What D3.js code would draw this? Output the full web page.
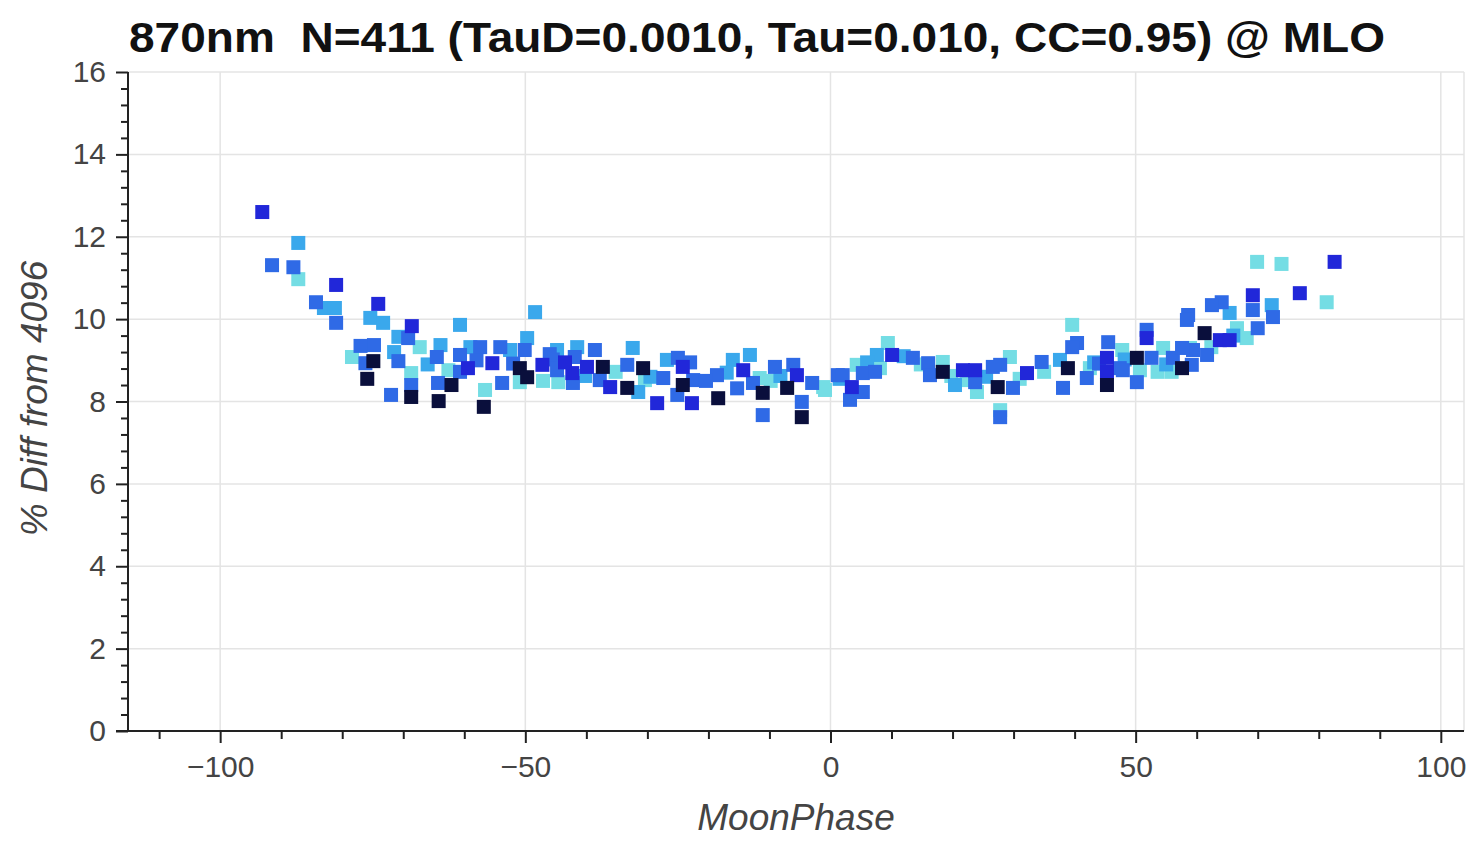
<!DOCTYPE html>
<html><head><meta charset="utf-8">
<script src="https://cdn.jsdelivr.net/npm/d3@7"></script>
<style>
body{margin:0;background:#fff;}
svg{display:block;font-family:"Liberation Sans",Arial,Helvetica,sans-serif;}
</style></head>
<body><svg id="c" width="1474" height="842"></svg>
<script>
const titleText = "870nm  N=411 (TauD=0.0010, Tau=0.010, CC=0.95) @ MLO";
const xLabel = "MoonPhase";
const yLabel = "% Diff from 4096";
const xMajorTicks = [-100, -50, 0, 50, 100];
const yMajorTicks = [0, 2, 4, 6, 8, 10, 12, 14, 16];
const levelColors = ["#74dde4", "#3aa8ec", "#2f6ae6", "#2127d9", "#0a0f3c"];

const moonPhase = [-93.1,-91.5,-87.2,-88.0,-87.2,-84.3,-81.0,-83.0,-81.2,-81.0,-74.1,-75.4,-73.3,-78.4,-74.8,-74.9,-76.2,-75.9,-72.0,-68.7,-68.7,-68.7,-68.6,-69.2,-70.8,-70.8,-67.3,-64.5,-64.2,-64.3,-62.1,-62.6,-60.7,-60.7,-60.7,-63.9,-56.8,-56.6,-53.8,-57.4,-55.4,-59.0,-59.4,-54.1,-52.5,-48.4,-49.7,-50.9,-49.7,-50.1,-47.2,-47.1,-44.8,-44.8,-44.6,-42.3,-42.2,-41.5,-41.9,-39.9,-38.6,-37.3,-37.8,-36.1,-33.3,-32.4,-33.3,-31.5,-30.7,-28.4,-26.8,-27.4,-25.0,-24.2,-24.2,-25.1,-22.7,-22.5,-18.6,-18.4,-16.0,-14.3,-13.2,-12.7,-11.1,-11.1,-9.1,-7.1,-6.1,-5.5,-4.7,-4.7,-3.0,-1.2,1.2,-0.9,2.0,3.5,3.2,5.3,5.3,4.3,7.3,7.6,9.4,10.1,13.5,16.0,16.3,18.4,18.4,20.4,21.7,23.7,23.7,24.0,26.6,27.8,27.4,29.4,29.9,27.8,27.8,32.2,34.6,37.6,39.6,40.4,39.6,38.9,38.1,42.0,45.5,45.3,45.3,45.3,47.4,47.8,50.2,51.8,51.8,52.6,50.2,50.7,56.1,57.6,58.6,53.6,54.5,59.4,61.3,69.9,73.9,82.6,76.9,81.3,69.2,69.2,72.3,72.5,70.0,64.1,62.5,65.4,58.4,63.8,65.4,66.6,61.7,58.9,59.2,68.2,57.6,47.9,22.3,42.5,55.9,-30.4,-50.9,-11.6,8.1,
  -52.0,-45.5,-40.2,-35.2,-20.4,-15.3,-8.2,12.0,19.8,35.0,44.0,48.2,62.4,-66.0,-58.0,-46.0,-43.5,-29.5,-23.0,-17.0,-9.8,1.5,6.0,14.8,25.5,31.0,43.2,55.0,66.0,-77.0,-71.5];
const pctDiff = [12.60,11.31,11.85,11.26,10.97,10.41,10.83,10.27,10.27,9.91,10.37,10.03,9.91,9.08,9.37,8.98,8.93,8.55,8.16,8.11,8.40,8.69,9.83,9.54,9.57,8.98,9.32,9.08,8.01,8.45,8.40,8.76,8.72,9.13,9.86,9.37,7.87,8.28,8.45,9.32,8.93,9.32,8.81,9.32,9.25,10.17,9.54,8.81,8.59,9.25,8.89,8.50,9.25,8.76,8.47,8.69,8.45,9.32,9.08,8.84,9.25,8.84,8.52,8.35,8.89,9.30,8.33,8.23,8.81,7.96,9.01,8.57,9.06,8.84,8.40,8.16,7.96,8.52,8.64,8.08,9.01,8.76,9.13,8.45,8.21,7.67,8.84,8.33,8.89,8.64,7.99,7.62,8.45,8.35,8.64,8.28,8.64,8.35,8.04,8.69,8.23,8.89,8.72,9.13,9.42,9.13,9.06,8.93,8.64,8.96,8.72,8.40,8.76,8.76,8.47,8.23,8.84,8.89,8.35,9.08,8.33,7.79,7.62,8.69,8.96,9.01,9.86,9.42,9.32,8.81,8.33,8.57,9.44,9.06,8.72,8.40,8.81,9.25,9.06,9.74,9.54,9.06,8.47,8.76,9.06,8.81,10.10,8.72,9.30,9.25,9.66,11.39,11.34,11.39,10.63,10.41,10.58,10.22,10.34,10.05,9.78,10.41,10.34,10.15,9.98,9.49,9.49,9.78,9.13,9.30,8.89,9.54,9.30,8.76,8.52,8.81,8.72,8.52,8.47,8.57,8.81,
  8.92,9.02,8.62,8.72,8.50,8.32,8.62,9.10,8.62,8.72,8.92,9.02,9.32,8.90,9.00,9.15,8.95,8.60,8.95,8.70,8.50,8.55,8.95,8.90,8.60,8.55,8.95,8.90,9.60,9.35,9.20];
const colorLevel = [3,2,1,2,0,2,3,1,1,2,3,1,1,0,2,4,2,4,2,4,2,0,3,2,1,2,0,2,4,2,4,0,2,2,1,1,4,0,2,2,3,1,3,2,1,1,1,4,4,2,3,0,1,2,0,3,2,1,2,3,2,4,2,3,2,1,4,1,4,3,1,2,2,3,4,2,3,2,2,4,1,3,1,2,4,2,2,4,2,3,2,4,2,0,2,0,2,3,2,2,2,0,2,1,0,3,2,2,2,0,4,1,3,3,2,0,2,2,4,0,2,0,2,3,2,1,0,2,2,4,2,2,2,3,3,4,2,0,4,2,3,2,2,0,2,4,2,0,0,2,4,0,0,3,3,0,3,2,1,2,2,2,2,1,2,3,3,0,2,0,2,0,2,2,0,0,0,0,0,0,0,
  2,2,1,0,2,2,1,1,0,0,2,1,0,1,2,2,3,1,2,1,0,1,1,0,1,0,1,1,1,2,1];

const W = 1474, H = 842;
const pLeft = 128, pRight = 1464, pTop = 72, pBottom = 731;
const svg = d3.select("#c");
svg.append("rect").attr("width", W).attr("height", H).attr("fill", "#fff");

const x = d3.scaleLinear().domain([-115.1, 103.8]).range([pLeft, pRight]);
const y = d3.scaleLinear().domain([0, 16]).range([pBottom, pTop]);

// grid
const grid = svg.append("g");
grid.selectAll("line.gx").data(xMajorTicks).join("line")
  .attr("x1", d => x(d)).attr("x2", d => x(d)).attr("y1", pTop).attr("y2", pBottom)
  .attr("stroke", "#e4e4e4").attr("stroke-width", 1.5);
grid.selectAll("line.gy").data(yMajorTicks).join("line")
  .attr("x1", pLeft).attr("x2", pRight).attr("y1", d => y(d)).attr("y2", d => y(d))
  .attr("stroke", "#e4e4e4").attr("stroke-width", 1.5);
grid.append("line").attr("x1", pRight).attr("x2", pRight).attr("y1", pTop).attr("y2", pBottom)
  .attr("stroke", "#e4e4e4").attr("stroke-width", 1.5);

// points
const n = Math.min(moonPhase.length, pctDiff.length, colorLevel.length);
const pts = d3.range(n).map(i => ({x: moonPhase[i], y: pctDiff[i], c: colorLevel[i]}))
  .sort((a, b) => a.c - b.c);
const s = 14;
svg.append("g").selectAll("rect").data(pts).join("rect")
  .attr("x", d => x(d.x) - s / 2).attr("y", d => y(d.y) - s / 2)
  .attr("width", s).attr("height", s)
  .attr("fill", d => levelColors[d.c]);

// axes
const xMinor = d3.range(-110, 101, 10).filter(v => !xMajorTicks.includes(v));
const yMinor = d3.range(0, 16.01, 0.4).map(v => +v.toFixed(1)).filter(v => Math.abs(v / 2 - Math.round(v / 2)) > 1e-6);

const xAx = svg.append("g").attr("transform", `translate(0,${pBottom})`);
xAx.call(d3.axisBottom(x).tickValues(xMajorTicks).tickSize(12).tickPadding(13).tickFormat(d3.format("")));
const xAxMin = svg.append("g").attr("transform", `translate(0,${pBottom})`);
xAxMin.call(d3.axisBottom(x).tickValues(xMinor).tickSize(8).tickFormat(""));
const yAx = svg.append("g").attr("transform", `translate(${pLeft},0)`);
yAx.call(d3.axisLeft(y).tickValues(yMajorTicks).tickSize(12).tickPadding(10).tickFormat(d3.format("d")));
const yAxMin = svg.append("g").attr("transform", `translate(${pLeft},0)`);
yAxMin.call(d3.axisLeft(y).tickValues(yMinor).tickSize(7).tickFormat(""));

[xAx, xAxMin, yAx, yAxMin].forEach(g => {
  g.select(".domain").remove();
  g.selectAll(".tick line").attr("stroke", "#222").attr("stroke-width", 2);
  g.selectAll(".tick text").attr("fill", "#444").attr("font-size", 30)
    .attr("font-family", "'Liberation Sans',Arial,Helvetica,sans-serif");
});
svg.append("line").attr("x1", pLeft - 12).attr("x2", pRight).attr("y1", pBottom).attr("y2", pBottom)
  .attr("stroke", "#222").attr("stroke-width", 2);
svg.append("line").attr("x1", pLeft).attr("x2", pLeft).attr("y1", pTop).attr("y2", pBottom)
  .attr("stroke", "#222").attr("stroke-width", 2);

// labels
svg.append("text").attr("x", (pLeft + pRight) / 2).attr("y", 830)
  .attr("text-anchor", "middle").attr("font-size", 37).attr("font-style", "italic")
  .attr("fill", "#444").text(xLabel);
svg.append("text").attr("transform", `translate(47,${(pTop + pBottom) / 2 - 3}) rotate(-90)`)
  .attr("text-anchor", "middle").attr("font-size", 37).attr("font-style", "italic")
  .attr("fill", "#444").text(yLabel);
svg.append("text").attr("x", 129).attr("y", 52)
  .attr("font-size", 43).attr("font-weight", "bold").attr("fill", "#111")
  .style("white-space", "pre")
  .attr("textLength", 1256).attr("lengthAdjust", "spacingAndGlyphs")
  .text(titleText);
</script></body></html>
